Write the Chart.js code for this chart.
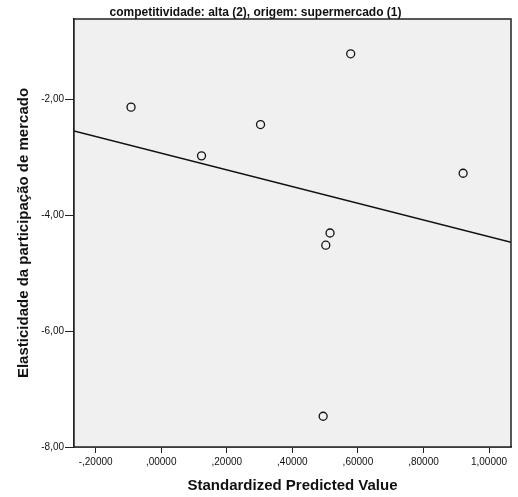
<!DOCTYPE html>
<html>
<head>
<meta charset="utf-8">
<script src="https://cdn.jsdelivr.net/npm/chart.js@4.4.0/dist/chart.umd.min.js"></script>
<style>
  body { margin: 0; background: #fff; }
</style>
</head>
<body>
<canvas id="scatter_chart" width="518" height="497"></canvas>
<script>
var predicted = [-0.092, 0.578, 0.303, 0.123, 0.921, 0.515, 0.502, 0.494];
var elasticity = [-2.14, -1.22, -2.44, -2.98, -3.28, -4.31, -4.52, -7.47];
var fitX = [-0.266, 1.067];
var fitY = [-2.55, -4.47];
var xTicks = [-0.2, 0, 0.2, 0.4, 0.6, 0.8, 1.0];
var yTicks = [-8, -6, -4, -2];

function fmt(v, digits) {
  // SPSS style: comma decimal, no leading zero
  return v.toFixed(digits).replace('.', ',').replace(/^(-?)0,/, '$1,');
}

var plotFrame = {
  id: 'plotFrame',
  beforeDatasetsDraw: function(chart) {
    var a = chart.chartArea, ctx = chart.ctx;
    ctx.save();
    ctx.fillStyle = '#f0f0f0';
    ctx.fillRect(a.left, a.top, a.right - a.left, a.bottom - a.top);
    ctx.restore();
  },
  afterDraw: function(chart) {
    var a = chart.chartArea, ctx = chart.ctx;
    ctx.save();
    ctx.strokeStyle = '#222';
    ctx.lineWidth = 1.5;
    ctx.strokeRect(a.left, a.top, a.right - a.left, a.bottom - a.top);
    ctx.restore();
  }
};

function create_Scatter() {
  var points = predicted.map(function(x, i) { return {x: x, y: elasticity[i]}; });
  var fit = fitX.map(function(x, i) { return {x: x, y: fitY[i]}; });

  new Chart(document.getElementById("scatter_chart"), {
    type: 'scatter',
    data: {
      datasets: [
        {
          data: points,
          pointRadius: 4,
          pointHoverRadius: 4,
          pointBorderWidth: 1.3,
          pointBorderColor: '#111',
          pointBackgroundColor: 'rgba(0,0,0,0)'
        },
        {
          type: 'line',
          data: fit,
          borderColor: '#111',
          borderWidth: 1.5,
          pointRadius: 0,
          fill: false
        }
      ]
    },
    options: {
      responsive: false,
      animation: false,
      layout: { padding: { left: 0, right: 7, top: 0, bottom: 0 } },
      plugins: {
        legend: { display: false },
        tooltip: { enabled: false },
        title: {
          display: true,
          text: 'competitividade: alta (2), origem: supermercado (1)',
          color: '#111',
          font: { family: 'Liberation Sans', size: 12, weight: 'bold', lineHeight: 1.0 },
          padding: { top: 7, bottom: 0 }
        }
      },
      scales: {
        x: {
          type: 'linear',
          min: fitX[0],
          max: fitX[1],
          afterBuildTicks: function(scale) {
            scale.ticks = xTicks.map(function(v) { return {value: v}; });
          },
          afterFit: function(scale) { scale.height = 50; },
          grid: { drawOnChartArea: false, drawTicks: true, tickLength: 6, color: '#222' },
          border: { color: '#222', width: 1.5 },
          ticks: {
            color: '#111',
            padding: 3,
            font: { family: 'Liberation Sans', size: 10 },
            callback: function(v) { return fmt(v, 5); }
          },
          title: {
            display: true,
            text: 'Standardized Predicted Value',
            color: '#111',
            font: { family: 'Liberation Sans', size: 15, weight: 'bold' },
            padding: { top: 4, bottom: 2 }
          }
        },
        y: {
          type: 'linear',
          min: -8,
          max: -0.62,
          afterBuildTicks: function(scale) {
            scale.ticks = yTicks.map(function(v) { return {value: v}; });
          },
          afterFit: function(scale) { scale.width = 74; },
          grid: { drawOnChartArea: false, drawTicks: true, tickLength: 9, color: '#222' },
          border: { color: '#222', width: 1.5 },
          ticks: {
            color: '#111',
            padding: 1,
            font: { family: 'Liberation Sans', size: 10 },
            callback: function(v) { return fmt(v, 2); }
          },
          title: {
            display: true,
            text: 'Elasticidade da participação de mercado',
            color: '#111',
            font: { family: 'Liberation Sans', size: 15, weight: 'bold' },
            padding: { top: 15, bottom: 0 }
          }
        }
      }
    },
    plugins: [plotFrame]
  });
}

document.addEventListener('DOMContentLoaded', create_Scatter);
</script>
</body>
</html>
